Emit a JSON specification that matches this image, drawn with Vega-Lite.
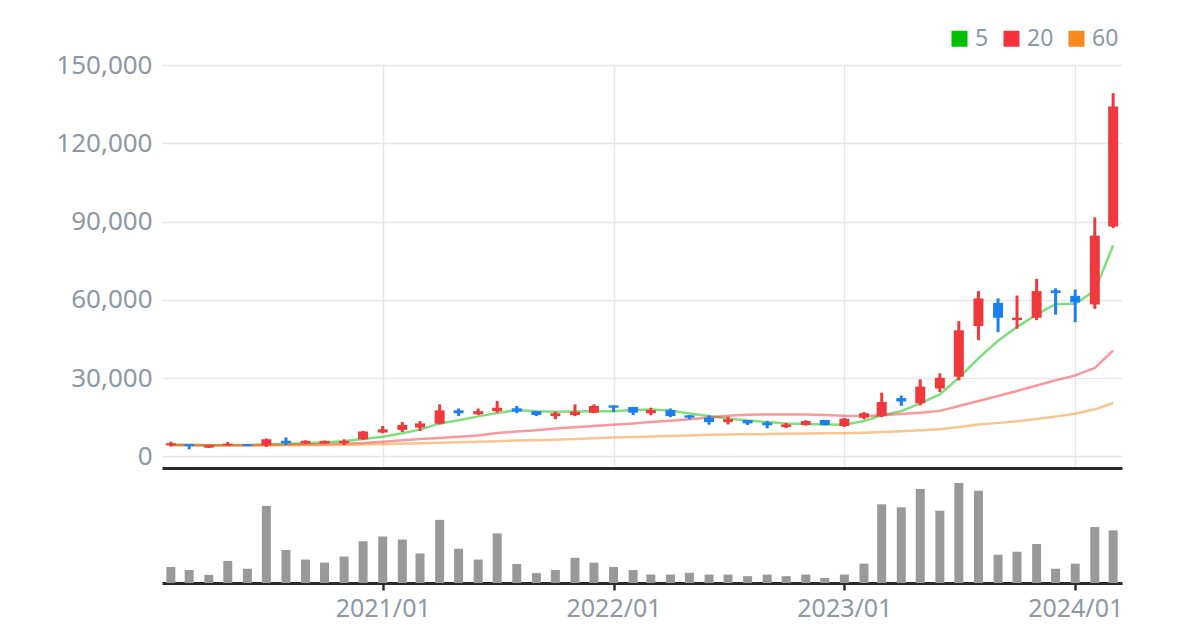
{
  "$schema": "https://vega.github.io/schema/vega-lite/v6.json",
  "background": "white",
  "padding": {"left": 5, "top": 27, "right": 5, "bottom": 5},
  "spacing": 2,
  "config": {
    "view": {"stroke": null},
    "font": "Noto Sans",
    "axis": {"labelFont": "Noto Sans", "labelColor": "#8e98a3", "labelFontSize": 25, "gridColor": "#e6e8ec", "gridWidth": 1.5, "title": null}
  },
  "datasets": {
    "m": [
      {"d":"2020-02-01","o":4200,"h":5600,"l":3700,"c":5000,"v":15.7,"5":4300,"20":4300,"60":4400},
      {"d":"2020-03-01","o":4600,"h":4700,"l":2700,"c":3900,"v":12.7,"5":4300,"20":4300,"60":4300},
      {"d":"2020-04-01","o":3300,"h":4300,"l":3200,"c":4200,"v":8.0,"5":4200,"20":4200,"60":4200},
      {"d":"2020-05-01","o":4200,"h":5500,"l":4000,"c":4800,"v":21.7,"5":4300,"20":4200,"60":4200},
      {"d":"2020-06-01","o":4600,"h":4700,"l":3900,"c":4000,"v":14.0,"5":4300,"20":4200,"60":4200},
      {"d":"2020-07-01","o":4200,"h":6800,"l":3600,"c":6500,"v":75.7,"5":4600,"20":4300,"60":4200},
      {"d":"2020-08-01","o":5900,"h":7200,"l":4300,"c":5000,"v":32.3,"5":4800,"20":4400,"60":4200},
      {"d":"2020-09-01","o":4900,"h":6100,"l":4700,"c":5900,"v":23.0,"5":5000,"20":4500,"60":4300},
      {"d":"2020-10-01","o":4900,"h":6000,"l":4800,"c":5900,"v":20.0,"5":5400,"20":4600,"60":4300},
      {"d":"2020-11-01","o":5000,"h":6500,"l":4300,"c":5900,"v":26.0,"5":5800,"20":4800,"60":4400},
      {"d":"2020-12-01","o":6500,"h":9700,"l":6300,"c":9500,"v":41.0,"5":6600,"20":5100,"60":4500},
      {"d":"2021-01-01","o":9100,"h":11600,"l":8800,"c":10300,"v":45.7,"5":7500,"20":5600,"60":4700},
      {"d":"2021-02-01","o":10100,"h":13100,"l":9300,"c":12000,"v":42.7,"5":8800,"20":6100,"60":4800},
      {"d":"2021-03-01","o":11000,"h":13500,"l":9700,"c":12600,"v":29.0,"5":10200,"20":6600,"60":5000},
      {"d":"2021-04-01","o":12500,"h":19900,"l":12200,"c":17600,"v":62.0,"5":12600,"20":7000,"60":5200},
      {"d":"2021-05-01","o":17600,"h":18300,"l":15400,"c":16500,"v":33.7,"5":13800,"20":7500,"60":5400},
      {"d":"2021-06-01","o":16100,"h":18300,"l":15800,"c":17300,"v":23.0,"5":15300,"20":8000,"60":5600},
      {"d":"2021-07-01","o":17300,"h":21200,"l":16700,"c":18600,"v":48.7,"5":16600,"20":8900,"60":5800},
      {"d":"2021-08-01","o":18400,"h":19300,"l":16500,"c":17100,"v":18.7,"5":17700,"20":9500,"60":6000},
      {"d":"2021-09-01","o":17300,"h":17300,"l":15400,"c":15800,"v":9.7,"5":17300,"20":10000,"60":6100},
      {"d":"2021-10-01","o":15400,"h":17100,"l":14200,"c":16500,"v":12.7,"5":17100,"20":10600,"60":6300},
      {"d":"2021-11-01","o":15800,"h":19900,"l":15400,"c":17100,"v":24.7,"5":17200,"20":11100,"60":6600},
      {"d":"2021-12-01","o":16700,"h":19900,"l":16500,"c":19300,"v":20.0,"5":17300,"20":11600,"60":6900},
      {"d":"2022-01-01","o":19500,"h":19500,"l":17000,"c":18600,"v":15.7,"5":17300,"20":12100,"60":7200},
      {"d":"2022-02-01","o":18900,"h":18900,"l":15800,"c":16700,"v":12.7,"5":17700,"20":12600,"60":7400},
      {"d":"2022-03-01","o":16500,"h":18600,"l":15700,"c":17700,"v":8.3,"5":17900,"20":13100,"60":7600},
      {"d":"2022-04-01","o":17700,"h":18300,"l":15000,"c":15400,"v":8.3,"5":17500,"20":13600,"60":7800},
      {"d":"2022-05-01","o":15700,"h":15700,"l":14200,"c":14800,"v":10.0,"5":16400,"20":14200,"60":8000},
      {"d":"2022-06-01","o":14800,"h":15700,"l":12100,"c":13100,"v":8.3,"5":15400,"20":14900,"60":8200},
      {"d":"2022-07-01","o":13100,"h":15200,"l":12200,"c":14200,"v":8.3,"5":14500,"20":15500,"60":8300},
      {"d":"2022-08-01","o":13900,"h":13900,"l":12000,"c":12600,"v":6.7,"5":13700,"20":15900,"60":8400},
      {"d":"2022-09-01","o":12900,"h":13500,"l":10700,"c":11900,"v":8.3,"5":13100,"20":16000,"60":8500},
      {"d":"2022-10-01","o":11200,"h":12800,"l":10800,"c":12200,"v":6.7,"5":12600,"20":16000,"60":8600},
      {"d":"2022-11-01","o":12000,"h":13800,"l":11800,"c":13500,"v":8.3,"5":12400,"20":16000,"60":8700},
      {"d":"2022-12-01","o":13900,"h":13900,"l":11900,"c":12000,"v":5.0,"5":12200,"20":15800,"60":8800},
      {"d":"2023-01-01","o":11600,"h":14600,"l":11200,"c":14400,"v":8.3,"5":12100,"20":15500,"60":8800},
      {"d":"2023-02-01","o":14800,"h":17000,"l":14200,"c":16500,"v":19.0,"5":13500,"20":15400,"60":9000},
      {"d":"2023-03-01","o":15400,"h":24400,"l":15000,"c":20800,"v":77.3,"5":15700,"20":15700,"60":9300},
      {"d":"2023-04-01","o":22300,"h":23300,"l":19300,"c":21000,"v":74.3,"5":17300,"20":16200,"60":9600},
      {"d":"2023-05-01","o":20300,"h":29500,"l":19500,"c":26700,"v":92.3,"5":20300,"20":16700,"60":10000},
      {"d":"2023-06-01","o":26000,"h":31800,"l":24600,"c":30100,"v":71.0,"5":23700,"20":17400,"60":10400},
      {"d":"2023-07-01","o":30500,"h":51800,"l":29100,"c":48300,"v":98.3,"5":30100,"20":19300,"60":11200},
      {"d":"2023-08-01","o":49900,"h":63300,"l":44500,"c":60500,"v":90.7,"5":37500,"20":21200,"60":12200},
      {"d":"2023-09-01","o":58800,"h":60500,"l":47600,"c":53100,"v":27.7,"5":44300,"20":23100,"60":12800},
      {"d":"2023-10-01","o":52200,"h":61600,"l":48900,"c":53100,"v":30.7,"5":49600,"20":25000,"60":13400},
      {"d":"2023-11-01","o":53100,"h":68000,"l":52200,"c":63300,"v":38.3,"5":54300,"20":27100,"60":14300},
      {"d":"2023-12-01","o":63600,"h":64400,"l":54300,"c":62600,"v":14.0,"5":58400,"20":29100,"60":15200},
      {"d":"2024-01-01","o":61500,"h":63900,"l":51400,"c":59000,"v":19.0,"5":58500,"20":31000,"60":16300},
      {"d":"2024-02-01","o":58200,"h":91600,"l":56500,"c":84600,"v":55.0,"5":63500,"20":33900,"60":18000},
      {"d":"2024-03-01","o":88100,"h":139200,"l":87500,"c":134100,"v":51.7,"5":80800,"20":40500,"60":20400}
    ]
  },
  "data": {"name": "m"},
  "resolve": {"scale": {"x": "independent", "y": "independent"}},
  "vconcat": [
    {
      "width": 960,
      "height": 403,
      "encoding": {
        "x": {
          "field": "d", "type": "temporal",
          "scale": {"type": "utc", "nice": false, "padding": 0, "domain": [{"year": 2020, "month": 1, "date": 18, "utc": true}, {"year": 2024, "month": 3, "date": 15, "utc": true}]},
          "axis": {
            "values": [{"year": 2021, "month": 1, "date": 1, "utc": true}, {"year": 2022, "month": 1, "date": 1, "utc": true}, {"year": 2023, "month": 1, "date": 1, "utc": true}, {"year": 2024, "month": 1, "date": 1, "utc": true}],
            "labels": false, "ticks": false, "domain": true, "domainColor": "#2b2b2b", "domainWidth": 3,
            "grid": true, "minExtent": 0, "maxExtent": 0
          }
        }
      },
      "layer": [
        {
          "transform": [{"fold": ["5", "20", "60"], "as": ["ma", "val"]}],
          "mark": {"type": "line", "strokeWidth": 2.5, "strokeOpacity": 0.5},
          "encoding": {
            "y": {
              "field": "val", "type": "quantitative",
              "scale": {"domain": [-4500, 150000], "nice": false, "zero": false},
              "axis": {"values": [0, 30000, 60000, 90000, 120000, 150000], "format": ",d", "ticks": false, "domain": false, "grid": true, "labelPadding": 10, "labelFontSize": 26, "minExtent": 157, "maxExtent": 157}
            },
            "color": {
              "field": "ma", "type": "nominal",
              "scale": {"domain": ["5", "20", "60"], "range": ["#00c000", "#f5323c", "#f5891e"]},
              "legend": {
                "orient": "none", "legendX": 786, "legendY": -38, "direction": "horizontal", "title": null,
                "symbolType": "square", "symbolSize": 256, "symbolStrokeWidth": 0, "symbolOpacity": 1,
                "labelFont": "Noto Sans", "labelFontSize": 23, "labelColor": "#8e98a3", "labelOffset": 4,
                "columnPadding": 11, "padding": 0,
                "encode": {"symbols": {"update": {"fill": {"scale": "color", "field": "value"}, "opacity": {"value": 1}, "fillOpacity": {"value": 1}, "strokeOpacity": {"value": 0}}}}
              }
            }
          }
        },
        {
          "mark": {"type": "rule", "strokeWidth": 3},
          "encoding": {
            "y": {"field": "l", "type": "quantitative"},
            "y2": {"field": "h"},
            "color": {"condition": {"test": "datum.c >= datum.o", "value": "#f0393c"}, "value": "#1b7ff0"}
          }
        },
        {
          "mark": {"type": "bar", "size": 10},
          "encoding": {
            "y": {"field": "o", "type": "quantitative"},
            "y2": {"field": "c"},
            "color": {"condition": {"test": "datum.c >= datum.o", "value": "#f0393c"}, "value": "#1b7ff0"}
          }
        }
      ]
    },
    {
      "width": 960,
      "height": 111,
      "mark": {"type": "bar", "size": 9, "color": "#999999"},
      "encoding": {
        "x": {
          "field": "d", "type": "temporal",
          "scale": {"type": "utc", "nice": false, "padding": 0, "domain": [{"year": 2020, "month": 1, "date": 18, "utc": true}, {"year": 2024, "month": 3, "date": 15, "utc": true}]},
          "axis": {
            "values": [{"year": 2021, "month": 1, "date": 1, "utc": true}, {"year": 2022, "month": 1, "date": 1, "utc": true}, {"year": 2023, "month": 1, "date": 1, "utc": true}, {"year": 2024, "month": 1, "date": 1, "utc": true}],
            "format": "%Y/%m", "grid": false, "domain": true, "domainColor": "#2b2b2b", "domainWidth": 3,
            "ticks": true, "tickColor": "#2b2b2b", "tickWidth": 2.5, "tickSize": 7, "labelPadding": 6
          }
        },
        "y": {
          "field": "v", "type": "quantitative",
          "scale": {"domain": [0, 109], "nice": false},
          "axis": {"labels": false, "ticks": false, "domain": false, "grid": false, "minExtent": 157, "maxExtent": 157}
        }
      }
    }
  ]
}
